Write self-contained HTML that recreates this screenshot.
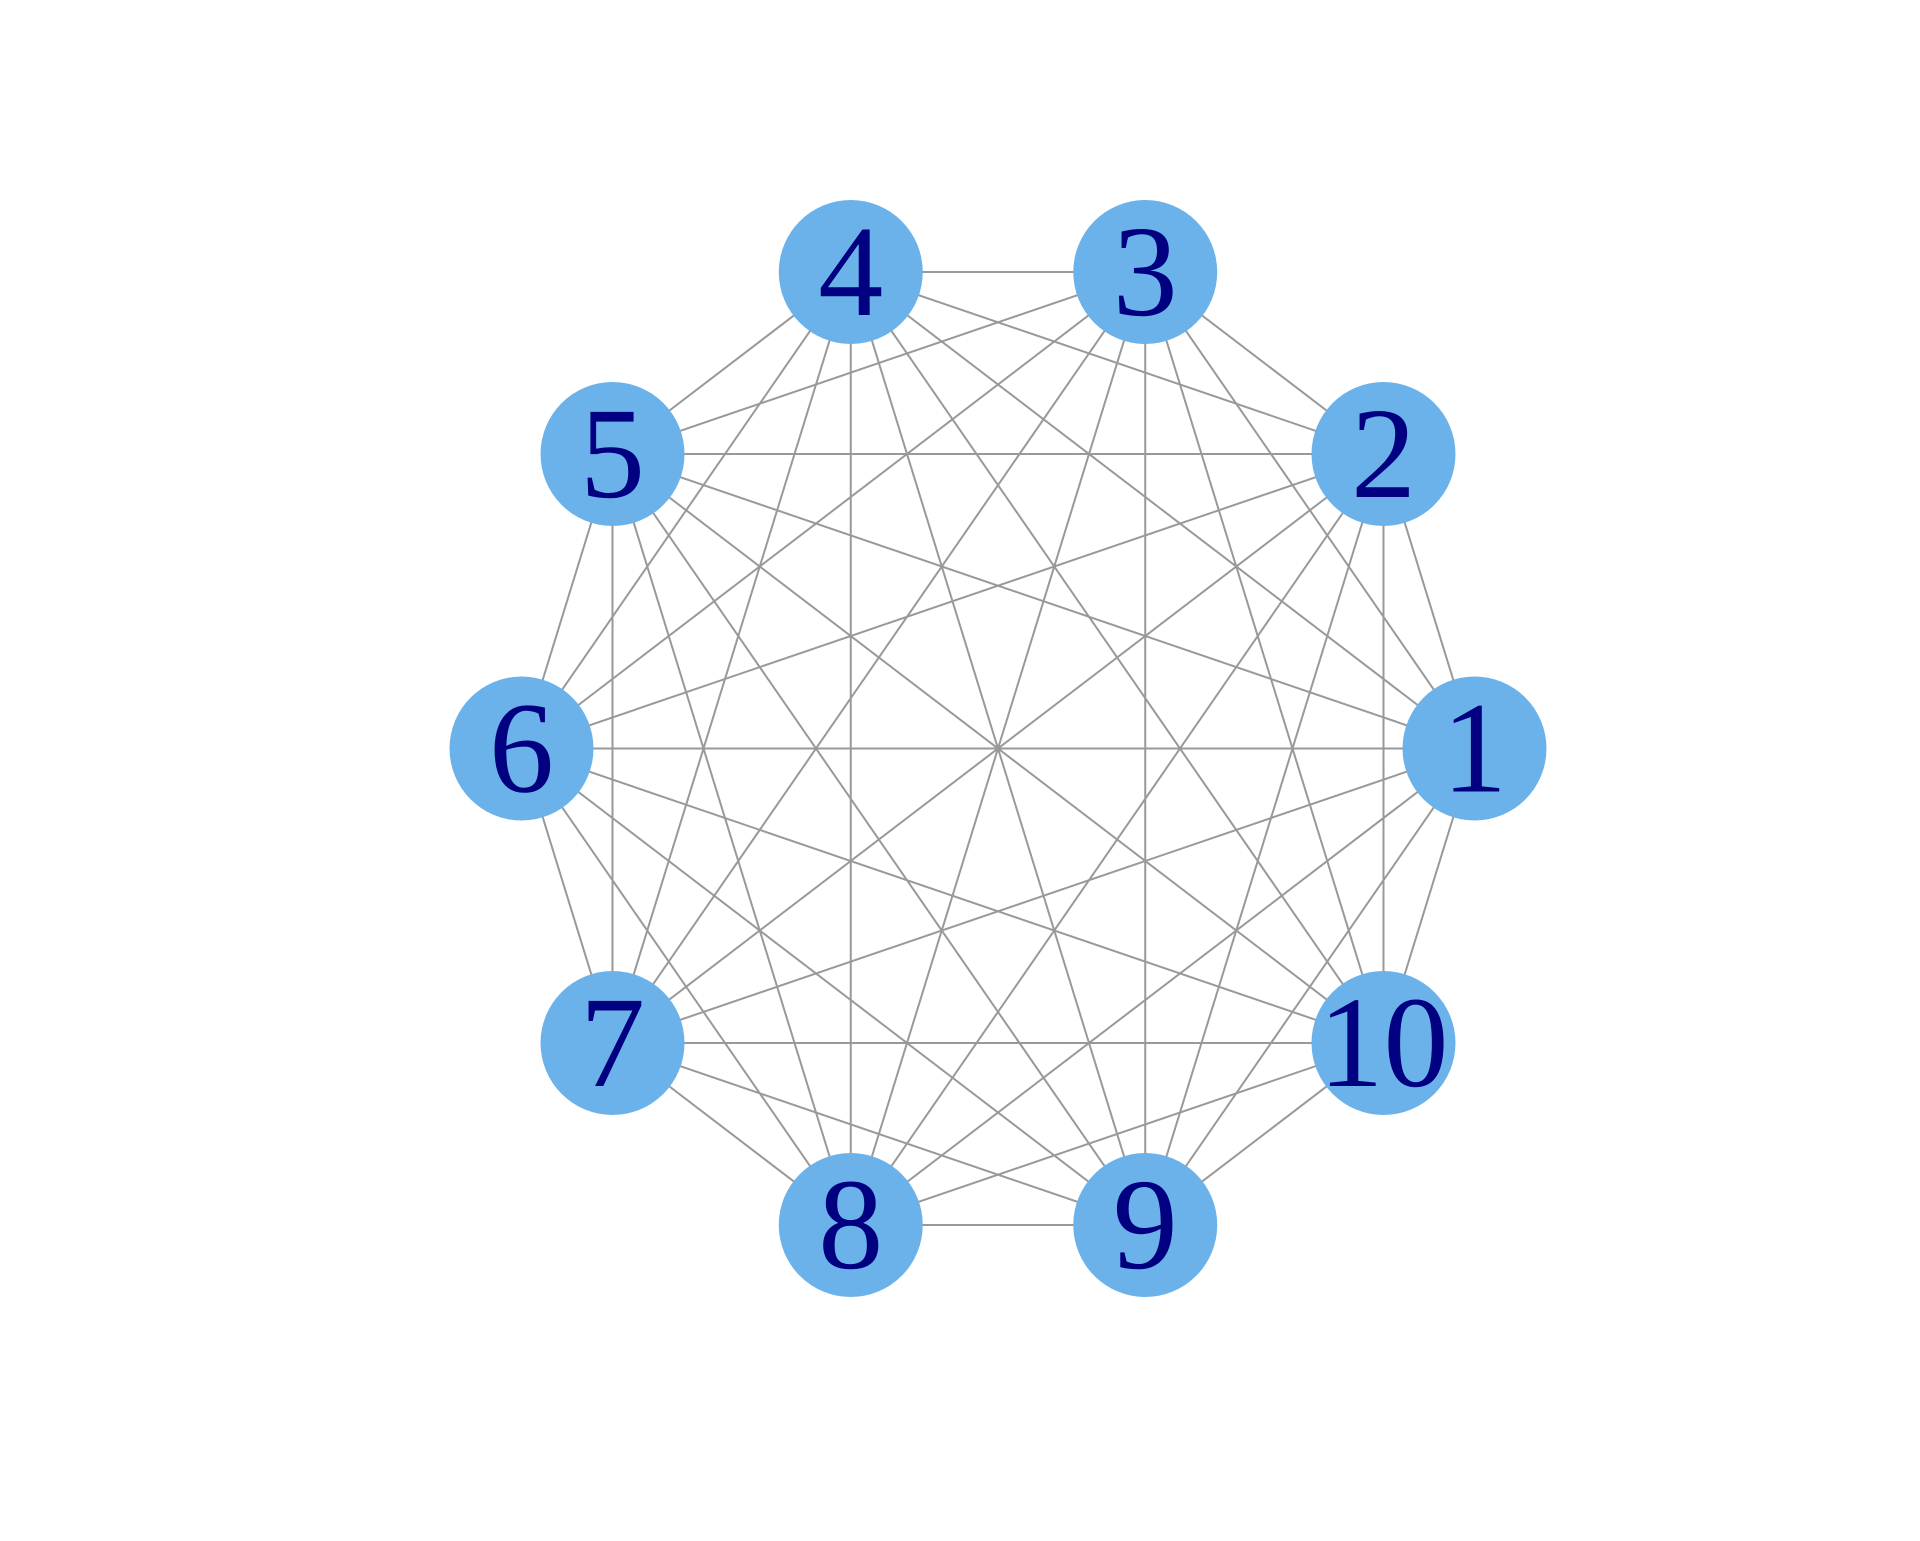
<!DOCTYPE html>
<html><head><meta charset="utf-8"><style>html,body{margin:0;padding:0;background:#fff}
svg text{font-family:"Liberation Serif","Times New Roman",Times,serif;}</style></head>
<body>
<svg id="chart" width="1920" height="1536" viewBox="0 0 1920 1536" xmlns="http://www.w3.org/2000/svg">
<g id="edges"></g>
<g id="nodes"></g>
</svg>
<script>
const nodeLabels = ["1","2","3","4","5","6","7","8","9","10"];
const nodeAngles = [0,36,72,108,144,180,216,252,288,324];
const cx = 998, cy = 748.5, rx = 476.5, ry = 501, nr = 72;
const ns = "http://www.w3.org/2000/svg";
function px(a){return cx + rx*Math.cos(a*Math.PI/180);}
function py(a){return cy - ry*Math.sin(a*Math.PI/180);}
const eg = document.getElementById('edges'), ng = document.getElementById('nodes');
for (let i=0;i<nodeLabels.length;i++){
  for (let j=i+1;j<nodeLabels.length;j++){
    const l = document.createElementNS(ns,'line');
    l.setAttribute('x1',px(nodeAngles[i]));l.setAttribute('y1',py(nodeAngles[i]));
    l.setAttribute('x2',px(nodeAngles[j]));l.setAttribute('y2',py(nodeAngles[j]));
    l.setAttribute('stroke','#999999');l.setAttribute('stroke-width','2');
    
    
    eg.appendChild(l);
  }
}
nodeLabels.forEach((lab,i)=>{
  const g = document.createElementNS(ns,'g');
  
  
  const c = document.createElementNS(ns,'circle');
  c.setAttribute('cx',px(nodeAngles[i]));c.setAttribute('cy',py(nodeAngles[i]));
  c.setAttribute('r',nr);c.setAttribute('fill','#6cb2ea');
  
  
  const t = document.createElementNS(ns,'text');
  t.setAttribute('x',px(nodeAngles[i]));t.setAttribute('y',py(nodeAngles[i])+43);
  t.setAttribute('text-anchor','middle');t.setAttribute('font-size','130');
  t.setAttribute('fill','#000080');
  
  
  t.textContent = lab;
  g.appendChild(c);g.appendChild(t);ng.appendChild(g);
});
</script>
</body></html>
